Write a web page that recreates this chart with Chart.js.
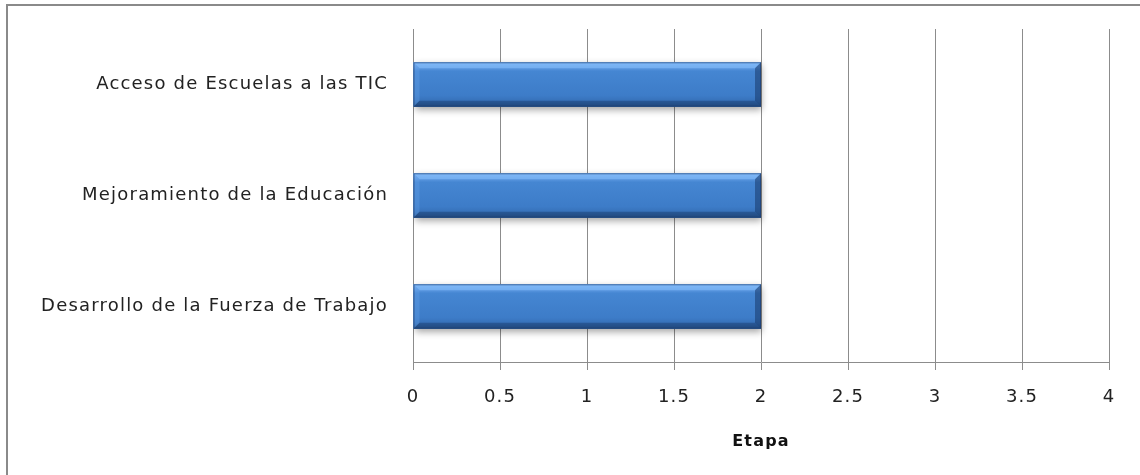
<!DOCTYPE html>
<html>
<head>
<meta charset="utf-8">
<script src="https://cdn.jsdelivr.net/npm/chart.js@4/dist/chart.umd.min.js"></script>
<style>
  html, body { margin: 0; padding: 0; background: #fff; }
  #wrap { width: 1140px; height: 475px; position: relative; }
</style>
</head>
<body>
<div id="wrap"><canvas id="c" width="1140" height="475"></canvas></div>
<script>
// Program areas and their current stage
const categories = [
  'Acceso de Escuelas a las TIC',
  'Mejoramiento de la Educación',
  'Desarrollo de la Fuerza de Trabajo'
];
const stageValues = [2, 2, 2];
const xTicks = [0, 0.5, 1, 1.5, 2, 2.5, 3, 3.5, 4];
const xTitle = 'Etapa';

const FONT = "'DejaVu Sans', 'Open Sans', sans-serif";

// Slightly open letter spacing for all chart text
const spacingPlugin = {
  id: 'spacing',
  beforeInit(chart) { chart.ctx.letterSpacing = '1.2px'; },
  beforeUpdate(chart) { chart.ctx.letterSpacing = '1.2px'; },
  beforeDraw(chart) { chart.ctx.letterSpacing = '1.2px'; }
};

// Frame lines around the chart
const framePlugin = {
  id: 'frame',
  beforeDraw(chart) {
    const ctx = chart.ctx;
    ctx.save();
    ctx.fillStyle = '#ffffff';
    ctx.fillRect(0, 0, chart.width, chart.height);
    ctx.strokeStyle = '#8a8a8a';
    ctx.lineWidth = 2;
    ctx.beginPath();
    ctx.moveTo(7, chart.height);
    ctx.lineTo(7, 5);
    ctx.lineTo(chart.width, 5);
    ctx.stroke();
    ctx.restore();
  }
};

// Soft drop shadow under the bars and a bevelled, shaded face on top of them
const bevelPlugin = {
  id: 'bevel',
  beforeDatasetsDraw(chart) {
    const ctx = chart.ctx;
    ctx.save();
    ctx.shadowColor = 'rgba(0,0,0,0.35)';
    ctx.shadowBlur = 7;
    ctx.shadowOffsetX = 1;
    ctx.shadowOffsetY = 3;
  },
  afterDatasetsDraw(chart) {
    const ctx = chart.ctx;
    ctx.restore();
    const meta = chart.getDatasetMeta(0);
    meta.data.forEach(bar => {
      const p = bar.getProps(['x', 'y', 'base', 'height'], true);
      const left = Math.min(p.base, p.x), right = Math.max(p.base, p.x);
      const top = p.y - p.height / 2, bottom = p.y + p.height / 2;
      const h = bottom - top;
      const b = 6;
      ctx.save();
      // face gradient
      const g = ctx.createLinearGradient(0, top, 0, bottom);
      g.addColorStop(0, '#73adf0');
      g.addColorStop(0.12, '#5e9ae2');
      g.addColorStop(0.2, '#4586d2');
      g.addColorStop(0.75, '#3d7cc8');
      g.addColorStop(0.88, '#3670b8');
      g.addColorStop(1, '#2a5890');
      ctx.fillStyle = g;
      ctx.fillRect(left, top, right - left, h);
      // top bevel
      ctx.fillStyle = 'rgba(140,195,255,0.5)';
      ctx.beginPath();
      ctx.moveTo(left, top); ctx.lineTo(right, top);
      ctx.lineTo(right - b, top + b); ctx.lineTo(left + b, top + b);
      ctx.closePath(); ctx.fill();
      // left bevel
      ctx.fillStyle = 'rgba(110,170,240,0.3)';
      ctx.beginPath();
      ctx.moveTo(left, top); ctx.lineTo(left + b, top + b);
      ctx.lineTo(left + b, bottom - b); ctx.lineTo(left, bottom);
      ctx.closePath(); ctx.fill();
      // bottom bevel
      ctx.fillStyle = 'rgba(20,50,95,0.4)';
      ctx.beginPath();
      ctx.moveTo(left, bottom); ctx.lineTo(right, bottom);
      ctx.lineTo(right - b, bottom - b); ctx.lineTo(left + b, bottom - b);
      ctx.closePath(); ctx.fill();
      // right bevel
      ctx.fillStyle = 'rgba(20,50,95,0.5)';
      ctx.beginPath();
      ctx.moveTo(right, top); ctx.lineTo(right - b, top + b);
      ctx.lineTo(right - b, bottom - b); ctx.lineTo(right, bottom);
      ctx.closePath(); ctx.fill();
      ctx.strokeStyle = 'rgba(30,60,110,0.6)';
      ctx.lineWidth = 1;
      ctx.strokeRect(left + 0.5, top + 0.5, right - left - 1, h - 1);
      ctx.restore();
    });
  }
};

new Chart(document.getElementById('c'), {
  type: 'bar',
  data: {
    labels: categories,
    datasets: [{
      data: stageValues,
      backgroundColor: '#3f7fcc',
      borderWidth: 0,
      categoryPercentage: 1.0,
      barPercentage: 0.4
    }]
  },
  options: {
    indexAxis: 'y',
    responsive: false,
    animation: false,
    devicePixelRatio: 1,
    layout: { padding: { top: 29, right: 31, left: 0, bottom: 20 } },
    plugins: { legend: { display: false }, tooltip: { enabled: false } },
    scales: {
      x: {
        min: 0,
        max: 4,
        afterBuildTicks(axis) { axis.ticks = xTicks.map(v => ({ value: v })); },
        grid: { color: '#8c8c8c', lineWidth: 1, drawTicks: true, tickLength: 8, tickColor: '#8c8c8c' },
        border: { color: '#8c8c8c', width: 1 },
        ticks: {
          color: '#222',
          font: { family: FONT, size: 18 },
          padding: 17,
          maxRotation: 0,
          callback: v => String(v)
        },
        title: {
          display: true,
          text: xTitle,
          color: '#111',
          font: { family: FONT, size: 16, weight: 'bold' },
          padding: { top: 10, bottom: 4 }
        },
        afterFit(axis) { axis.height = 93; }
      },
      y: {
        grid: { display: false, drawTicks: false },
        border: { color: '#8c8c8c', width: 1 },
        ticks: {
          color: '#222',
          font: { family: FONT, size: 18 },
          padding: 25
        },
        afterFit(axis) {
          axis.width = 413;
          axis.paddingTop = 0;
          axis.paddingBottom = 0;
        }
      }
    }
  },
  plugins: [spacingPlugin, framePlugin, bevelPlugin]
});
</script>
</body>
</html>
